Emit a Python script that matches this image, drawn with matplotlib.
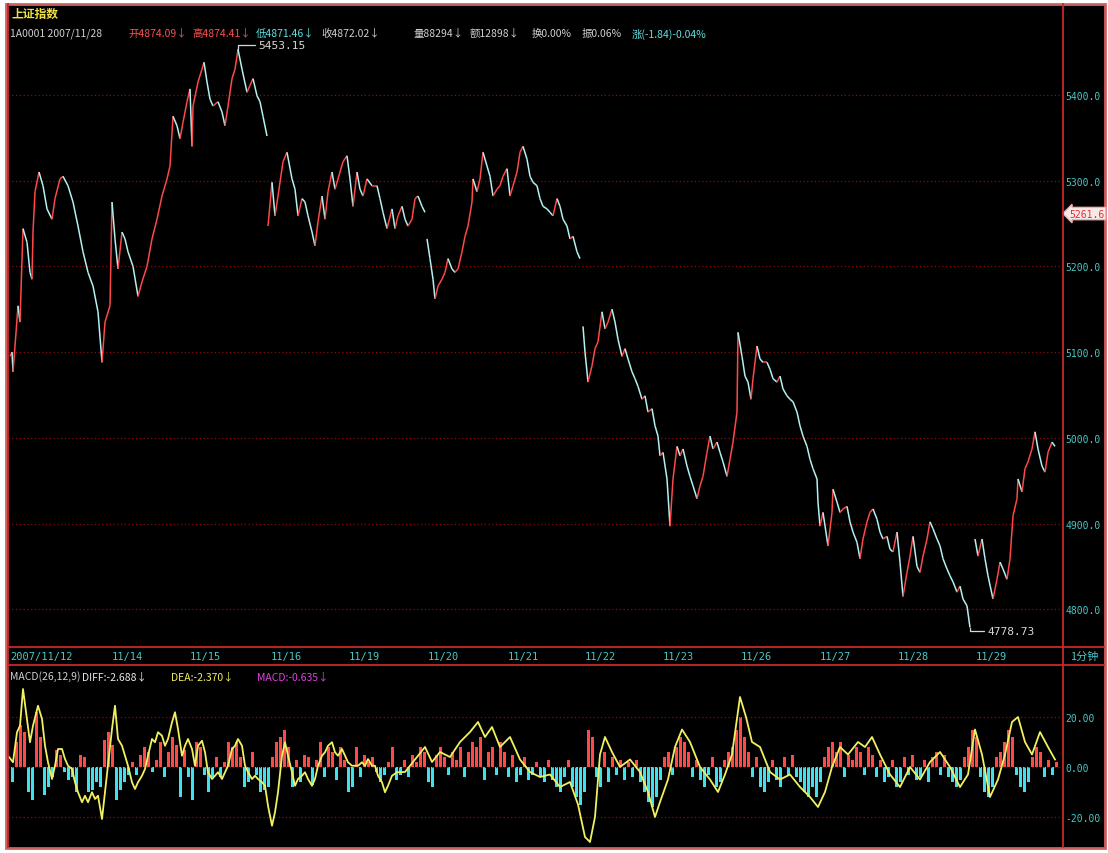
import numpy as np
import matplotlib
matplotlib.use('Agg')
from matplotlib import pyplot as plt
from matplotlib.collections import LineCollection
from matplotlib.patches import Rectangle

plt.rcParams['font.family'] = ['Noto Sans CJK SC', 'DejaVu Sans']

W, H = 1108, 854
nan = np.nan

# 1 minute bars (index) and closes, nan = break in the line
minute = [2, 4, 5, 7, 10, 12, 15, 19, 22, 24, 25, 27, 31, 35, 39, 44, 47, 52, 55, 60, 65,
          70, 75, 80, 85, 90, 94, 97, 102, 104, 107, 110, 114, 117, 120, 125, 130, 134, 139,
          144, 149, 154, 159, 162, 165, 169, 172, 175, 179, 182, 184, 185, 190, 194, 196, 199,
          202, 205, 210, 214, 217, 220, 224, 227, 230, 234, 239, 242, 245, 249, 252, 255, 259,
          nan,
          260, 264, 267, 270, 275, 279, 284, 287, 290, 294, 297, 300, 304, 307, 310, 314, 317,
          320, 324, 327, 332, 335, 339, 342, 345, 349, 352, 355, 359, 364, 369, 372, 375, 379,
          384, 387, 390, 394, 397, 400, 404, 407, 410, 414, 417,
          nan,
          419, 422, 425, 427, 430, 434, 437, 440, 444, 447, 450, 454, 457, 460, 464, 465, 469,
          472, 475, 479, 482, 485, 489, 492, 495, 499, 502, 505, 509, 512, 515, 519, 522, 525,
          529, 532, 535, 539, 542, 545, 549, 552, 555, 559, 562, 565, 569, 572,
          nan,
          575, 577, 580, 584, 587, 590, 594, 597, 600, 604, 607, 610, 614, 617, 620, 624, 627,
          630, 634, 637, 640, 644, 647, 650, 652, 655, 659, 662, 665, 669, 672, 675, 679, 682,
          685, 689, 692, 695, 699, 702, 705, 709, 712, 715, 719, 722, 725, 729, 730, 734, 737,
          740, 743, 745, 749, 752, 755, 759, 762, 765, 769, 772, 775, 779, 782, 785, 789, 792,
          795, 799, 802, 805, 809, 810, 812, 815, 820, 824, 825, 829, 832, 835, 839, 842, 845,
          849, 852, 855, 859, 862, 865, 869, 872, 875, 879, 882, 885, 889, 892, 895, 899, 902,
          905, 909, 912, 915, 919, 922, 925, 929, 932, 935, 939, 942, 945, 949, 952, 955, 959, 962,
          nan,
          967, 970, 974, 977, 980, 985, 989, 992, 995, 999, 1002, 1005, 1009, 1010, 1014, 1017,
          1020, 1024, 1027, 1030, 1034, 1037, 1040, 1044, 1047]

close = [5095, 5100, 5077, 5107, 5154, 5135, 5244, 5228, 5193, 5185, 5240, 5287, 5310, 5294,
         5267, 5255, 5279, 5302, 5305, 5294, 5275, 5247, 5217, 5193, 5177, 5147, 5088, 5135,
         5154, 5275, 5232, 5197, 5240, 5232, 5217, 5200, 5165, 5182, 5200, 5232, 5255, 5282,
         5302, 5317, 5375, 5364, 5349, 5368, 5392, 5407, 5340, 5387, 5415, 5430, 5438, 5415,
         5395, 5387, 5392, 5380, 5364, 5387, 5419, 5430, 5453.15, 5430, 5403, 5411, 5419, 5399,
         5392, 5375, 5352,
         nan,
         5247, 5298, 5259, 5282, 5322, 5333, 5302, 5290, 5259, 5279, 5275, 5259, 5240, 5224,
         5252, 5282, 5255, 5287, 5310, 5290, 5310, 5322, 5329, 5302, 5270, 5310, 5290, 5282,
         5302, 5294, 5294, 5279, 5263, 5244, 5267, 5244, 5259, 5270, 5255, 5247, 5255, 5279,
         5282, 5270, 5263,
         nan,
         5232, 5209, 5185, 5162, 5177, 5185, 5193, 5209, 5197, 5193, 5197, 5217, 5235, 5247,
         5275, 5302, 5287, 5302, 5333, 5317, 5305, 5282, 5290, 5294, 5305, 5314, 5282, 5294,
         5310, 5333, 5340, 5325, 5305, 5298, 5294, 5279, 5270, 5267, 5263, 5259, 5279, 5270,
         5255, 5247, 5232, 5235, 5217, 5209,
         nan,
         5130, 5100, 5065, 5084, 5104, 5112, 5147, 5127, 5135, 5150, 5135, 5115, 5095, 5104,
         5092, 5077, 5069, 5060, 5045, 5049, 5030, 5034, 5014, 5002, 4979, 4983, 4952, 4897,
         4952, 4990, 4979, 4987, 4967, 4955, 4944, 4929, 4944, 4955, 4983, 5002, 4987, 4995,
         4983, 4972, 4955, 4975, 4995, 5030, 5123, 5095, 5072, 5065, 5045, 5069, 5107, 5092,
         5088, 5088, 5080, 5069, 5065, 5072, 5057, 5049, 5045, 5042, 5030, 5014, 5002, 4990,
         4975, 4964, 4952, 4925, 4897, 4913, 4874, 4913, 4940, 4925, 4913, 4917, 4920, 4902,
         4890, 4878, 4859, 4882, 4902, 4913, 4917, 4905, 4890, 4882, 4885, 4870, 4867, 4890,
         4855, 4815, 4843, 4862, 4885, 4850, 4843, 4862, 4882, 4902, 4894, 4882, 4874, 4859,
         4847, 4839, 4832, 4820, 4827, 4812, 4804, 4778.73,
         nan,
         4882, 4862, 4882, 4859, 4839, 4812, 4835, 4855, 4847, 4835, 4859, 4909, 4929, 4952,
         4937, 4964, 4972, 4987, 5007, 4987, 4967, 4960, 4983, 4995, 4990]

date_pos = [2, 119, 197, 278, 356, 435, 515, 592, 670, 748, 827, 905, 983]
date_lab = ['2007/11/12', '11/14', '11/15', '11/16', '11/19', '11/20', '11/21',
            '11/22', '11/23', '11/26', '11/27', '11/28', '11/29']
price_ticks = [4800, 4900, 5000, 5100, 5200, 5300, 5400]
last_price = 5261.6

# MACD panel
macd_t = [0, 5, 9, 12, 15, 19, 22, 25, 30, 34, 37, 40, 44, 47, 50, 54, 57, 60, 64, 67,
          70, 74, 77, 80, 84, 87, 90, 94, 97, 100, 104, 107, 110, 114, 117, 120, 124, 127, 130, 134,
          137, 140, 144, 147, 150, 154, 157, 160, 164, 167, 170, 174, 177, 180, 184, 187, 190, 194, 197, 200,
          204, 207, 210, 214, 217, 220, 224, 227, 230, 234, 237, 240, 244, 247, 250, 254, 257, 260, 264, 267,
          270, 274, 277, 280, 284, 287, 290, 294, 297, 300, 304, 307, 310, 314, 317, 320, 324, 327, 330, 334,
          337, 340, 344, 347, 350, 354, 357, 360, 364, 367, 370, 374, 377, 380, 384, 389,
          397, 407, 417, 424, 432, 442, 452, 462, 470, 477, 484, 492, 502, 512, 522, 532, 542, 552, 562, 570,
          577, 582, 587, 592, 597, 604, 612, 622, 632, 640, 647, 652, 660, 667, 674, 682, 692, 702, 710, 717,
          724, 732, 738, 744, 752, 762, 772, 782, 792, 802, 810, 817, 824, 832, 840, 850, 857, 864, 872, 882,
          892, 902, 912, 922, 932, 942, 952, 960, 967, 974, 982, 990, 997, 1004, 1010, 1017, 1024, 1032, 1040, 1047]
macd_line = [4.5, 1.9, 13.9, 16.5, 31.2, 19.2, 9.9, 16.5, 24.5, 19.2, 8.5, 1.9, -4.8, 0.5, 7.2, 7.2, 3.2, 0.5, -0.8, -6.1,
             -10.1, -14.1, -11.5, -14.1, -10.1, -12.8, -11.5, -20.8, -10.1, 0.5, 15.2, 24.5, 11.2, 8.5, 4.5, 0.5, -6.1, -8.8, -6.1, -3.5,
             -0.8, 4.5, 11.2, 9.9, 13.9, 12.5, 8.5, 11.2, 17.9, 21.9, 15.2, 4.5, 8.5, 11.2, 7.2, 0.5, 8.5, 10.5, 5.9, -2.1,
             -4.8, -3.5, -2.1, -4.8, -2.1, 0.5, 7.2, 8.5, 11.2, 8.5, 0.5, -2.1, -4.8, -3.5, -4.8, -6.1, -7.5, -15.5, -23.5, -18.1,
             -10.1, 4.5, 9.9, 4.5, -2.1, -7.5, -4.8, -3.5, -2.1, -4.8, -7.5, -4.8, 0.5, 4.5, 5.9, 8.5, 9.9, 5.9, 4.5, 7.2,
             4.5, 1.9, 0.5, 0.5, 0.5, 1.9, 0.5, 3.2, 0.5, 0.5, -3.5, -6.1, -10.1, -7.5, -3.5, -2.1,
             -2, 3, 8, 2, 6, 4, 10, 14, 18, 12, 16, 8, 12, 3, -2, -4, -3, -8, -6, -15,
             -28, -30, -20, 5, 12, 6, 0, 3, -2, -10, -20, -14, -5, 8, 15, 10, 0, -5, -10, -3,
             5, 28, 20, 10, 8, -2, -5, -3, -8, -12, -16, -10, 0, 8, 5, 10, 8, 12, 5, -3,
             -8, 0, -5, 2, 6, 0, -8, -3, 15, 5, -12, -5, 5, 18, 20, 10, 5, 14, 8, 3]
# histogram, one value every 4 bars from bar 0
macd_hist = [0, -6, 10, 17, 14, -10, -13, 22, 12, -11, -8, -4, 7, 5, -2, -5, -4, -10, 5, 4,
             -10, -9, -6, -8, 11, 14, 9, -13, -9, -6, -3, 2, -3, 5, 8, 6, -2, 3, 10, -4,
             6, 12, 9, -12, 7, -4, -13, 10, 8, -3, -10, -4, 4, -4, 2, 10, 8, 10, 4, -8,
             -6, 6, -3, -10, -9, -8, 4, 10, 12, 15, 8, -8, 3, -6, 5, 4, -7, 3, 10, -4,
             8, 6, -5, 8, 3, -10, -8, 8, -4, 5, 2, 4, -2, -6, -3, 2, 8, -5, -3,
             3, -4, 5, 2, 8, 6, -6, -8, 5, 8, 4, -3, 6, 3, 8, -4, 6, 10, 8, 12,
             -5, 6, 8, -3, 10, 6, -4, 5, -6, -3, 4, -5, -3, 2, -4, -6, 3, -5, -8, -10,
             -4, 3, -8, -12, -15, -10, 15, 12, -4, -8, 6, -6, 4, -3, 3, -5, 2, -4, 3, -6,
             -10, -14, -16, -12, -5, 4, 6, -3, 8, 12, 10, 6, -4, 3, -5, -8, -3, 4, -8, -6,
             3, 6, 8, 15, 20, 12, 6, -4, 4, -8, -10, -6, 3, -5, -8, 4, -3, 5, -4, -6,
             -10, -12, -8, -12, -6, 4, 8, 10, 6, 10, -4, 5, 3, 8, 6, -3, 8, 5, -4, 3,
             -6, -4, 3, -8, -6, 4, -3, 5, -5, -4, 3, -6, 4, 6, -3, 5, -4, -6, -8, -5,
             4, 8, 15, 12, -4, -10, -12, -8, 4, 6, 10, 15, 12, -3, -8, -10, -6, 4, 8, 6,
             -4, 3, -3, 2]
macd_ticks = [-20, 0, 20]

UP = '#ff4848'
DOWN = '#b4f0f0'
GRID = '#8a0a0a'
FRAME = '#c82828'
AXTXT = '#48c8c8'


def px(x, y):
    return x / W, 1 - y / H


fig = plt.figure(figsize=(W / 100, H / 100), dpi=100, facecolor='white')
fig.patches.append(Rectangle(px(6, 849), (1105 - 6) / W, (849 - 5) / H,
                             transform=fig.transFigure, facecolor='black',
                             edgecolor='#d06060', lw=2, zorder=-10))

# price panel
ax = fig.add_axes([8 / W, 1 - 648 / H, 1055 / W, (648 - 5) / H])
ax.patch.set_visible(False)
t = np.array(minute, float)
p = np.array(close, float)
segs, cols = [], []
for i in range(len(p) - 1):
    if np.isnan(p[i]) or np.isnan(p[i + 1]):
        continue
    segs.append([(t[i], p[i]), (t[i + 1], p[i + 1])])
    cols.append(UP if p[i + 1] >= p[i] else DOWN)
ax.add_collection(LineCollection(segs, colors=cols, linewidths=1.1))
ax.set_xlim(0, 1055)
ax.set_ylim(4756, 5506)
ax.yaxis.tick_right()
ax.set_yticks(price_ticks)
ax.set_yticklabels(['%.1f' % v for v in price_ticks], color=AXTXT, fontsize=7,
                   family='DejaVu Sans Mono')
ax.tick_params(axis='y', length=0, pad=2)
ax.set_xticks([])
ax.grid(axis='y', color=GRID, linestyle=(0, (1, 2)), lw=0.9)
for s in ax.spines.values():
    s.set_visible(False)

# high / low marks
imax = np.nanargmax(p)
imin = np.nanargmin(p)
ax.annotate('%.2f' % p[imax], xy=(t[imax], p[imax]), xytext=(t[imax] + 20, p[imax] + 5),
            color='#d8d8d8', fontsize=8, va='center', family='DejaVu Sans Mono',
            arrowprops=dict(arrowstyle='-', color='#d8d8d8', lw=0.9,
                            connectionstyle='angle,angleA=0,angleB=90,rad=0',
                            shrinkA=0, shrinkB=0))
ax.annotate('%.2f' % p[imin], xy=(t[imin], p[imin]), xytext=(t[imin] + 17, p[imin] - 4),
            color='#d8d8d8', fontsize=8, va='center', family='DejaVu Sans Mono',
            arrowprops=dict(arrowstyle='-', color='#d8d8d8', lw=0.9,
                            connectionstyle='angle,angleA=0,angleB=90,rad=0',
                            shrinkA=0, shrinkB=0))

# last price tag
ax.text(1.006, last_price, '%.1f' % last_price, transform=ax.get_yaxis_transform(),
        color='#e03030', fontsize=7, va='center', ha='left', family='DejaVu Sans Mono',
        bbox=dict(boxstyle='larrow,pad=0.12', facecolor='#f8e8e8', edgecolor='#f0b0b0'))

# date strip
axd = fig.add_axes([8 / W, 1 - 666 / H, 1055 / W, 18 / H])
axd.set_xlim(0, 1055)
axd.set_ylim(0, 1)
axd.axis('off')
for xpos, lab in zip(date_pos, date_lab):
    axd.text(xpos, 0.5, lab, color=AXTXT, fontsize=7.5, va='center',
             ha='left' if lab.startswith('2007') else 'center', family='DejaVu Sans Mono')
fig.text(*px(1070, 657), '1分钟', color=AXTXT, fontsize=8, va='center', ha='left')

# MACD panel
ax2 = fig.add_axes([8 / W, 1 - 848 / H, 1055 / W, (848 - 666) / H])
ax2.patch.set_visible(False)
hist = np.array(macd_hist, float)
ht = np.arange(len(hist)) * 4
ax2.bar(ht, hist, width=3, color=np.where(hist >= 0, '#ff4848', '#40e0ec'), lw=0)
ax2.plot(macd_t, macd_line, color='#f0f060', lw=1.3)
ax2.set_xlim(0, 1055)
ax2.set_ylim(-32, 40.8)
ax2.yaxis.tick_right()
ax2.set_yticks(macd_ticks)
ax2.set_yticklabels(['%.2f' % v for v in macd_ticks], color=AXTXT, fontsize=7,
                    family='DejaVu Sans Mono')
ax2.tick_params(axis='y', length=0, pad=2)
ax2.set_xticks([])
ax2.grid(axis='y', color=GRID, linestyle=(0, (1, 2)), lw=0.9)
for s in ax2.spines.values():
    s.set_visible(False)

# frame lines
for (x0, y0, x1, y1) in [(8, 5, 8, 848), (1063, 5, 1063, 848), (8, 648, 1104, 648),
                         (8, 666, 1104, 666)]:
    fig.add_artist(plt.Line2D([x0 / W, x1 / W], [1 - y0 / H, 1 - y1 / H], color=FRAME,
                              lw=1.3, transform=fig.transFigure, zorder=5))

# header texts
fig.text(*px(11, 14), '上证指数', color='#f0e040', fontsize=8.5, va='center', weight='bold')
head = [(10, '1A0001 2007/11/28', '#d0d0d0'), (128, '开4874.09↓', '#ff5050'),
        (192, '高4874.41↓', '#ff5050'), (256, '低4871.46↓', '#60e0e0'),
        (321, '收4872.02↓', '#d0d0d0'), (413, '量88294↓', '#d0d0d0'),
        (470, '额12898↓', '#d0d0d0'), (532, '换0.00%', '#d0d0d0'),
        (582, '振0.06%', '#d0d0d0'), (632, '涨(-1.84)-0.04%', '#60e0e0')]
for xpos, s, c in head:
    fig.text(*px(xpos, 34), s, color=c, fontsize=7.5, va='center')
macd_head = [(10, 'MACD(26,12,9)', '#d0d0d0'), (82, 'DIFF:-2.688↓', '#e8e8e8'),
             (171, 'DEA:-2.370↓', '#f0f060'), (257, 'MACD:-0.635↓', '#e040e0')]
for xpos, s, c in macd_head:
    fig.text(*px(xpos, 677), s, color=c, fontsize=7.5, va='center')

fig.savefig('out.png', dpi=100, facecolor='white')
